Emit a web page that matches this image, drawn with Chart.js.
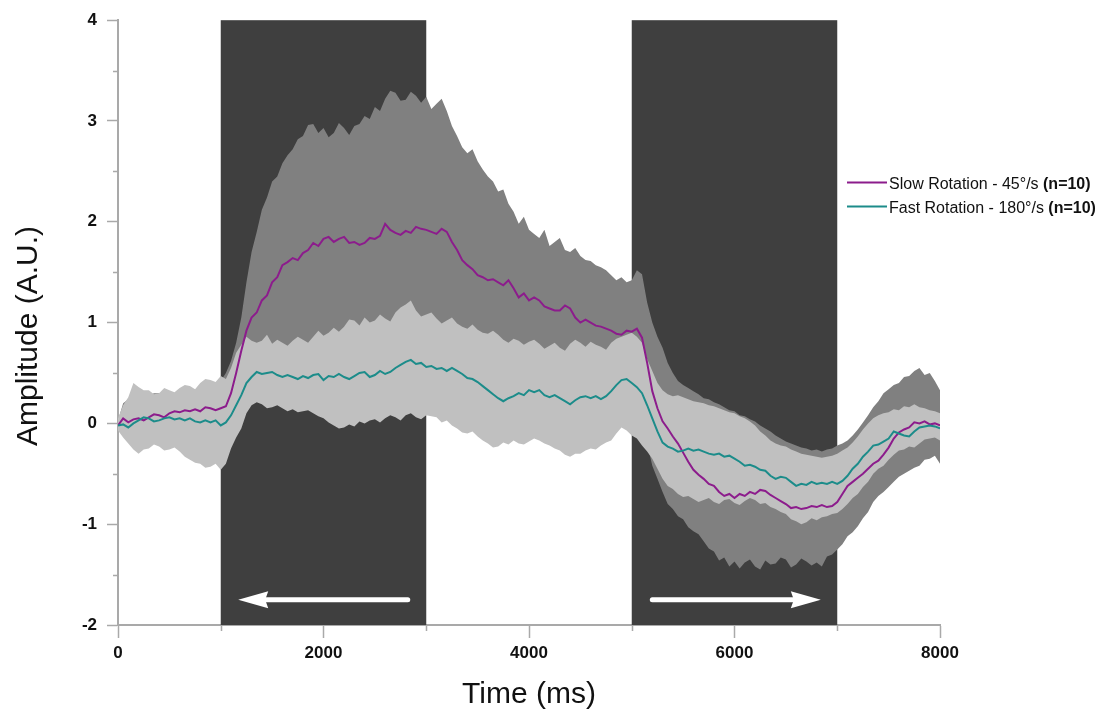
<!DOCTYPE html>
<html>
<head>
<meta charset="utf-8">
<title>Amplitude over time</title>
<script src="https://cdn.jsdelivr.net/npm/chart.js@4.4.1/dist/chart.umd.min.js"></script>
<style>
  html, body { margin: 0; padding: 0; background: #fff; }
</style>
</head>
<body>
<canvas id="myChart" width="1099" height="713"></canvas>
<script>
// sample times, one every 50 ms
const timeMs = Array.from({ length: 161 }, (_, i) => i * 50);

// slow rotation (45 deg/s): mean and +/- SD envelope
const slowMean = [
  -0.02, 0.05, 0.01, 0.04, 0.05, 0.03, 0.06, 0.09, 0.08, 0.06, 0.10, 0.12, 0.11, 0.13, 0.12, 0.14, 0.12, 0.16, 0.15, 0.13,
  0.15, 0.17, 0.30, 0.50, 0.72, 0.92, 1.05, 1.10, 1.22, 1.27, 1.40, 1.45, 1.57, 1.60, 1.64, 1.62, 1.69, 1.72, 1.79, 1.76,
  1.83, 1.85, 1.80, 1.83, 1.85, 1.79, 1.80, 1.77, 1.79, 1.84, 1.83, 1.86, 1.98, 1.92, 1.89, 1.87, 1.91, 1.89, 1.95, 1.93,
  1.92, 1.90, 1.88, 1.93, 1.90, 1.80, 1.72, 1.62, 1.57, 1.53, 1.47, 1.45, 1.42, 1.43, 1.40, 1.37, 1.42, 1.34, 1.25, 1.29,
  1.22, 1.25, 1.22, 1.16, 1.14, 1.12, 1.12, 1.17, 1.14, 1.05, 1.00, 1.03, 1.00, 0.97, 0.96, 0.94, 0.92, 0.89, 0.88, 0.92,
  0.91, 0.94, 0.85, 0.60, 0.32, 0.15, 0.02, -0.05, -0.13, -0.20, -0.29, -0.38, -0.46, -0.51, -0.55, -0.60, -0.62, -0.68, -0.72, -0.70,
  -0.74, -0.70, -0.72, -0.68, -0.70, -0.66, -0.67, -0.71, -0.74, -0.77, -0.80, -0.84, -0.83, -0.85, -0.84, -0.82, -0.83, -0.81, -0.83, -0.82,
  -0.78, -0.70, -0.62, -0.58, -0.54, -0.50, -0.45, -0.40, -0.37, -0.31, -0.24, -0.15, -0.09, -0.06, -0.04, 0.01, 0.00, 0.02, -0.01, 0.00,
  -0.02
];
const slowUpper = [
  0.03, 0.20, 0.24, 0.30, 0.30, 0.28, 0.28, 0.30, 0.30, 0.26, 0.28, 0.30, 0.30, 0.32, 0.33, 0.32, 0.35, 0.37, 0.38, 0.40,
  0.42, 0.50, 0.62, 0.80, 1.05, 1.40, 1.70, 1.90, 2.12, 2.24, 2.40, 2.45, 2.58, 2.66, 2.72, 2.82, 2.85, 2.96, 2.97, 2.88,
  2.93, 2.84, 2.88, 2.98, 2.93, 2.86, 2.95, 2.97, 3.05, 3.02, 3.14, 3.10, 3.22, 3.30, 3.28, 3.20, 3.21, 3.29, 3.25, 3.18,
  3.24, 3.12, 3.17, 3.22, 3.10, 2.95, 2.85, 2.74, 2.68, 2.72, 2.60, 2.52, 2.45, 2.40, 2.30, 2.32, 2.18, 2.10, 1.98, 2.05,
  1.92, 1.88, 1.84, 1.92, 1.76, 1.80, 1.84, 1.72, 1.70, 1.74, 1.66, 1.62, 1.61, 1.57, 1.55, 1.52, 1.47, 1.42, 1.45, 1.40,
  1.42, 1.52, 1.48, 1.20, 1.00, 0.86, 0.75, 0.60, 0.50, 0.42, 0.38, 0.35, 0.32, 0.29, 0.25, 0.24, 0.21, 0.19, 0.16, 0.13,
  0.12, 0.08, 0.07, 0.04, 0.02, -0.02, -0.05, -0.08, -0.12, -0.15, -0.18, -0.20, -0.22, -0.24, -0.25, -0.27, -0.26, -0.28, -0.26, -0.25,
  -0.22, -0.20, -0.17, -0.12, -0.06, 0.01, 0.08, 0.16, 0.22, 0.30, 0.34, 0.38, 0.40, 0.46, 0.47, 0.52, 0.55, 0.48, 0.50, 0.42,
  0.33
];
const slowLower = [
  -0.04, -0.08, -0.12, -0.18, -0.22, -0.20, -0.20, -0.19, -0.18, -0.19, -0.20, -0.21, -0.22, -0.25, -0.28, -0.29, -0.30, -0.31, -0.32, -0.33,
  -0.35, -0.28, -0.20, -0.08, 0.05, 0.20, 0.35, 0.40, 0.45, 0.48, 0.50, 0.52, 0.55, 0.56, 0.58, 0.59, 0.60, 0.61, 0.62, 0.62,
  0.62, 0.61, 0.60, 0.61, 0.62, 0.61, 0.60, 0.59, 0.58, 0.59, 0.60, 0.62, 0.65, 0.62, 0.60, 0.61, 0.62, 0.63, 0.65, 0.63,
  0.62, 0.61, 0.60, 0.59, 0.58, 0.56, 0.55, 0.52, 0.50, 0.47, 0.45, 0.43, 0.42, 0.41, 0.40, 0.41, 0.42, 0.41, 0.40, 0.39,
  0.38, 0.39, 0.40, 0.39, 0.38, 0.37, 0.36, 0.38, 0.40, 0.38, 0.36, 0.37, 0.38, 0.38, 0.38, 0.37, 0.36, 0.34, 0.32, 0.31,
  0.30, 0.28, 0.20, -0.20, -0.42, -0.55, -0.68, -0.80, -0.85, -0.92, -0.95, -1.03, -1.07, -1.10, -1.17, -1.24, -1.27, -1.36, -1.33, -1.42,
  -1.37, -1.44, -1.38, -1.35, -1.42, -1.45, -1.36, -1.40, -1.39, -1.33, -1.35, -1.43, -1.40, -1.34, -1.37, -1.41, -1.38, -1.42, -1.32, -1.30,
  -1.25, -1.20, -1.12, -1.08, -1.02, -0.94, -0.88, -0.78, -0.72, -0.68, -0.63, -0.58, -0.53, -0.50, -0.47, -0.44, -0.42, -0.36, -0.35, -0.32,
  -0.40
];

// fast rotation (180 deg/s): mean and +/- SD envelope
const fastMean = [
  -0.02, -0.01, -0.04, 0.00, 0.03, 0.06, 0.05, 0.02, 0.03, 0.05, 0.06, 0.04, 0.05, 0.03, 0.05, 0.02, 0.01, 0.03, 0.01, 0.03,
  -0.02, 0.01, 0.08, 0.18, 0.28, 0.40, 0.46, 0.51, 0.49, 0.50, 0.51, 0.48, 0.46, 0.48, 0.46, 0.44, 0.47, 0.45, 0.48, 0.49,
  0.43, 0.47, 0.46, 0.49, 0.46, 0.44, 0.47, 0.50, 0.51, 0.46, 0.48, 0.52, 0.49, 0.51, 0.55, 0.58, 0.61, 0.63, 0.59, 0.60,
  0.56, 0.57, 0.54, 0.55, 0.52, 0.55, 0.52, 0.49, 0.45, 0.44, 0.41, 0.37, 0.33, 0.29, 0.25, 0.22, 0.25, 0.27, 0.30, 0.28,
  0.33, 0.31, 0.33, 0.28, 0.26, 0.28, 0.25, 0.22, 0.19, 0.23, 0.26, 0.27, 0.25, 0.27, 0.24, 0.27, 0.32, 0.38, 0.43, 0.44,
  0.40, 0.36, 0.30, 0.18, 0.05, -0.08, -0.19, -0.23, -0.25, -0.28, -0.27, -0.25, -0.27, -0.26, -0.28, -0.30, -0.31, -0.30, -0.33, -0.32,
  -0.35, -0.38, -0.42, -0.41, -0.43, -0.46, -0.47, -0.52, -0.55, -0.53, -0.54, -0.58, -0.62, -0.60, -0.61, -0.58, -0.60, -0.59, -0.60, -0.58,
  -0.60, -0.57, -0.52, -0.45, -0.40, -0.33, -0.28, -0.22, -0.21, -0.18, -0.15, -0.08, -0.10, -0.12, -0.13, -0.08, -0.04, -0.03, -0.02, -0.03,
  -0.05
];
const fastUpper = [
  0.05, 0.18, 0.26, 0.40, 0.36, 0.33, 0.33, 0.29, 0.30, 0.35, 0.33, 0.31, 0.35, 0.38, 0.37, 0.34, 0.40, 0.44, 0.43, 0.41,
  0.47, 0.44, 0.55, 0.70, 0.78, 0.86, 0.82, 0.80, 0.82, 0.88, 0.79, 0.83, 0.80, 0.77, 0.82, 0.86, 0.83, 0.80, 0.86, 0.92,
  0.87, 0.90, 0.95, 0.91, 0.96, 1.03, 1.02, 0.97, 1.05, 1.00, 1.02, 1.08, 1.04, 1.01, 1.10, 1.15, 1.18, 1.22, 1.12, 1.06,
  1.08, 1.10, 1.04, 0.99, 1.02, 1.05, 0.99, 0.96, 0.94, 0.98, 0.93, 0.90, 0.89, 0.92, 0.88, 0.83, 0.80, 0.84, 0.82, 0.78,
  0.81, 0.83, 0.79, 0.74, 0.77, 0.80, 0.75, 0.72, 0.79, 0.83, 0.80, 0.76, 0.81, 0.78, 0.76, 0.73, 0.80, 0.84, 0.86, 0.88,
  0.90, 0.86, 0.80, 0.64, 0.52, 0.40, 0.33, 0.29, 0.27, 0.28, 0.26, 0.24, 0.22, 0.21, 0.20, 0.18, 0.17, 0.15, 0.13, 0.11,
  0.10, 0.07, 0.05, 0.02, -0.02, -0.08, -0.12, -0.17, -0.20, -0.22, -0.23, -0.26, -0.28, -0.30, -0.31, -0.32, -0.33, -0.34, -0.33, -0.32,
  -0.30, -0.27, -0.24, -0.19, -0.13, -0.06, 0.00, 0.05, 0.08, 0.10, 0.11, 0.14, 0.13, 0.17, 0.16, 0.19, 0.16, 0.15, 0.13, 0.12,
  0.10
];
const fastLower = [
  -0.07, -0.14, -0.20, -0.26, -0.30, -0.26, -0.25, -0.21, -0.23, -0.27, -0.26, -0.24, -0.28, -0.33, -0.36, -0.39, -0.40, -0.44, -0.43, -0.40,
  -0.46, -0.40, -0.25, -0.14, -0.05, 0.10, 0.18, 0.21, 0.19, 0.15, 0.16, 0.18, 0.15, 0.12, 0.14, 0.11, 0.12, 0.13, 0.10, 0.07,
  0.05, 0.01, -0.02, -0.05, -0.04, -0.01, -0.03, 0.02, 0.00, 0.03, 0.04, 0.01, 0.05, 0.08, 0.06, 0.03, 0.08, 0.10, 0.06, 0.04,
  0.08, 0.07, 0.06, 0.01, 0.03, -0.02, -0.05, -0.09, -0.10, -0.08, -0.13, -0.17, -0.20, -0.24, -0.23, -0.19, -0.21, -0.17, -0.20, -0.21,
  -0.18, -0.15, -0.17, -0.20, -0.22, -0.25, -0.27, -0.31, -0.33, -0.30, -0.30, -0.27, -0.25, -0.26, -0.22, -0.19, -0.17, -0.10, -0.04, -0.07,
  -0.12, -0.15, -0.22, -0.28, -0.35, -0.45, -0.55, -0.62, -0.65, -0.70, -0.73, -0.72, -0.75, -0.78, -0.76, -0.74, -0.78, -0.80, -0.76, -0.75,
  -0.79, -0.81, -0.77, -0.74, -0.76, -0.80, -0.79, -0.83, -0.85, -0.88, -0.90, -0.95, -0.97, -1.00, -0.98, -0.94, -0.96, -0.93, -0.92, -0.90,
  -0.89, -0.85, -0.80, -0.74, -0.70, -0.63, -0.58, -0.50, -0.45, -0.42, -0.36, -0.31, -0.27, -0.26, -0.23, -0.24, -0.20, -0.16, -0.15, -0.14,
  -0.17
];

// rotation periods (ms) and the direction arrows drawn inside them
const stimulusWindows = [[1000, 3000], [5000, 7000]];
const arrowTails = [2820, 5200];
const arrowTips = [1170, 6840];
const arrowLevel = -1.75;

const xMinorTicks = [1000, 3000, 5000, 7000];
const yMinorTicks = [-1.5, -0.5, 0.5, 1.5, 2.5, 3.5];

const legendNames = ['Slow Rotation - 45°/s', 'Fast Rotation - 180°/s'];
const legendCounts = ['(n=10)', '(n=10)'];
const yTitle = 'Amplitude (A.U.)';
const xTitle = 'Time (ms)';

const PURPLE = '#8c1c8c';
const TEAL = '#1c8c8a';
const AXIS = '#a9a9a9';
const FONT = "'Liberation Sans', Arial, sans-serif";

const toPoints = ys => ys.map((y, i) => ({ x: timeMs[i], y: y }));

// dark background blocks for the rotation periods, plus the white arrows
const stimulusShading = {
    id: 'stimulusShading',
    beforeDatasetsDraw(chart) {
        const { ctx, chartArea, scales: { x, y } } = chart;
        ctx.save();
        ctx.fillStyle = '#3f3f3f';
        stimulusWindows.forEach(([from, to]) => {
            const left = x.getPixelForValue(from);
            const right = x.getPixelForValue(to);
            ctx.fillRect(left, chartArea.top, right - left, chartArea.bottom - chartArea.top);
        });

        const ay = y.getPixelForValue(arrowLevel);
        ctx.strokeStyle = '#fff';
        ctx.fillStyle = '#fff';
        ctx.lineWidth = 5;
        ctx.lineCap = 'round';
        for (let i = 0; i < arrowTails.length; i++) {
            const tail = x.getPixelForValue(arrowTails[i]);
            const tip = x.getPixelForValue(arrowTips[i]);
            const dir = tip > tail ? 1 : -1;
            ctx.beginPath();
            ctx.moveTo(tail, ay);
            ctx.lineTo(tip - dir * 24, ay);
            ctx.stroke();
            ctx.beginPath();
            ctx.moveTo(tip, ay);
            ctx.lineTo(tip - dir * 30, ay - 8.5);
            ctx.lineTo(tip - dir * 27, ay);
            ctx.lineTo(tip - dir * 30, ay + 8.5);
            ctx.closePath();
            ctx.fill();
        }
        ctx.restore();
    }
};

// short minor ticks, rotated y title and the legend
const decorations = {
    id: 'decorations',
    afterDraw(chart) {
        const { ctx, chartArea, scales: { x, y } } = chart;
        ctx.save();
        ctx.strokeStyle = AXIS;
        ctx.lineWidth = 1.5;
        ctx.beginPath();
        xMinorTicks.forEach(v => {
            const px = Math.round(x.getPixelForValue(v)) + 0.5;
            ctx.moveTo(px, chartArea.bottom);
            ctx.lineTo(px, chartArea.bottom + 6);
        });
        yMinorTicks.forEach(v => {
            const py = Math.round(y.getPixelForValue(v)) + 0.5;
            ctx.moveTo(chartArea.left, py);
            ctx.lineTo(chartArea.left - 5, py);
        });
        ctx.stroke();

        ctx.fillStyle = '#111';
        ctx.font = '30px ' + FONT;
        ctx.textAlign = 'center';
        ctx.textBaseline = 'alphabetic';
        ctx.translate(37, 336);
        ctx.rotate(-Math.PI / 2);
        ctx.fillText(yTitle, 0, 0);
        ctx.restore();

        ctx.save();
        const colors = [PURPLE, TEAL];
        const lx = chartArea.right - 93;
        legendNames.forEach((name, i) => {
            const ly = 182.5 + i * 24;
            ctx.strokeStyle = colors[i];
            ctx.lineWidth = 2;
            ctx.beginPath();
            ctx.moveTo(lx, ly);
            ctx.lineTo(lx + 40, ly);
            ctx.stroke();
            ctx.fillStyle = '#111';
            ctx.textAlign = 'left';
            ctx.textBaseline = 'alphabetic';
            ctx.font = '16px ' + FONT;
            const tx = lx + 42;
            ctx.fillText(name + ' ', tx, ly + 6);
            const w = ctx.measureText(name + ' ').width;
            ctx.font = 'bold 16px ' + FONT;
            ctx.fillText(legendCounts[i], tx + w, ly + 6);
        });
        ctx.restore();
    }
};

const bandLine = { pointRadius: 0, borderWidth: 0, borderColor: 'rgba(0,0,0,0)', tension: 0 };

const config = {
    type: 'line',
    data: {
        datasets: [
            { label: legendNames[1], data: toPoints(fastMean), borderColor: TEAL, borderWidth: 2, pointRadius: 0, fill: false },
            { label: legendNames[0], data: toPoints(slowMean), borderColor: PURPLE, borderWidth: 2, pointRadius: 0, fill: false },
            Object.assign({ label: 'fast lower', data: toPoints(fastLower), fill: false }, bandLine),
            Object.assign({ label: 'fast upper', data: toPoints(fastUpper), fill: '-1', backgroundColor: '#c0c0c0' }, bandLine),
            Object.assign({ label: 'slow lower', data: toPoints(slowLower), fill: false }, bandLine),
            Object.assign({ label: 'slow upper', data: toPoints(slowUpper), fill: '-1', backgroundColor: '#808080' }, bandLine)
        ]
    },
    options: {
        responsive: false,
        animation: false,
        layout: { padding: { top: 19, right: 159, left: 0, bottom: 0 } },
        plugins: {
            legend: { display: false },
            tooltip: { enabled: false }
        },
        scales: {
            x: {
                type: 'linear',
                min: 0,
                max: 8000,
                z: 1,
                afterFit: scale => { scale.height = 88; },
                border: { color: AXIS, width: 2 },
                grid: { drawOnChartArea: false, tickLength: 13, tickColor: AXIS, tickWidth: 1.5 },
                ticks: {
                    stepSize: 2000,
                    padding: 5,
                    color: '#111',
                    font: { family: FONT, size: 17, weight: 'bold' },
                    callback: value => String(value)
                },
                title: {
                    display: true,
                    text: xTitle,
                    color: '#111',
                    padding: { top: 0, bottom: 0 },
                    font: { family: FONT, size: 30 }
                }
            },
            y: {
                min: -2,
                max: 4,
                z: 1,
                afterFit: scale => { scale.width = 118; },
                border: { color: AXIS, width: 2 },
                grid: { drawOnChartArea: false, tickLength: 11, tickColor: AXIS, tickWidth: 1.5 },
                ticks: {
                    stepSize: 1,
                    padding: 10,
                    color: '#111',
                    font: { family: FONT, size: 17, weight: 'bold' },
                    callback: value => String(value)
                }
            }
        }
    },
    plugins: [stimulusShading, decorations]
};

const myChart = new Chart(document.getElementById('myChart'), config);
</script>
</body>
</html>
